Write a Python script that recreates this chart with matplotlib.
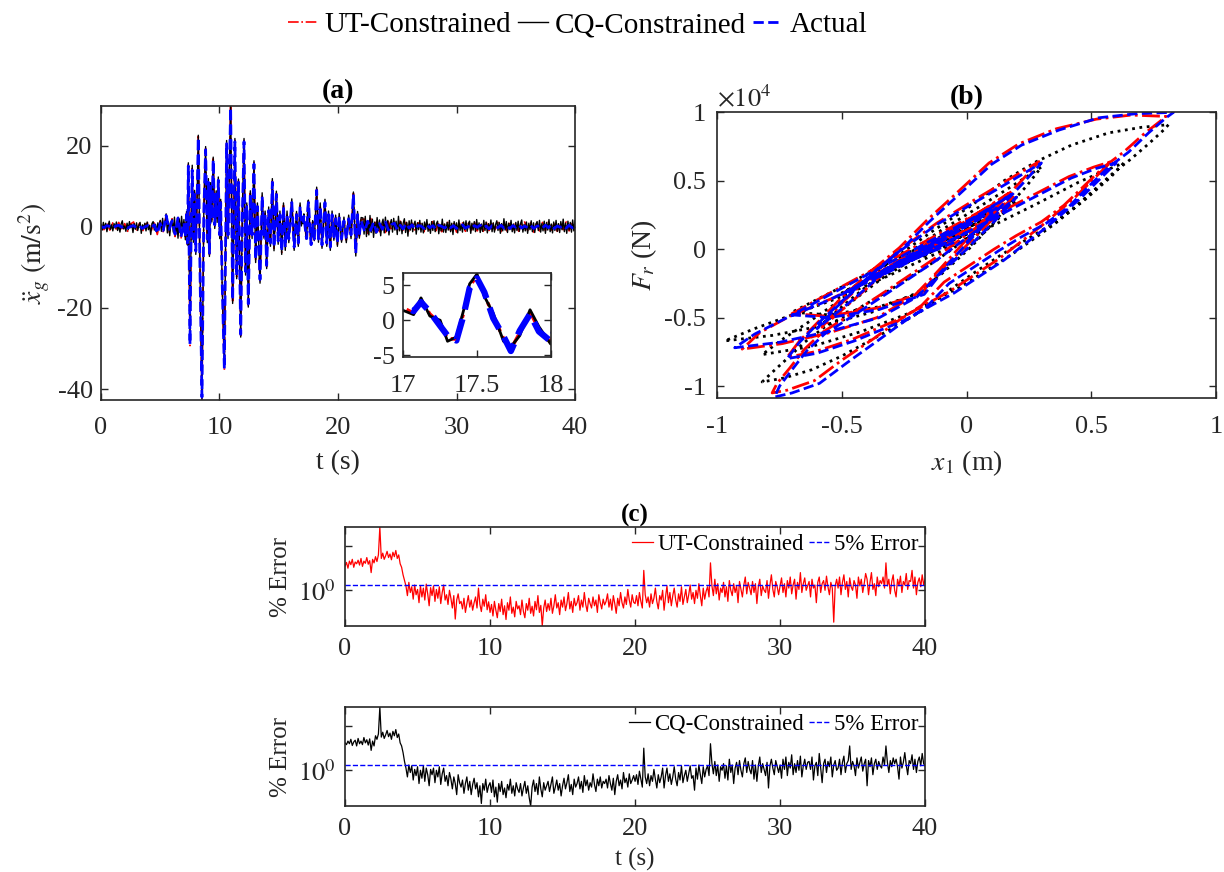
import numpy as np
import matplotlib
matplotlib.use('Agg')
import matplotlib.pyplot as plt
from matplotlib.lines import Line2D
from matplotlib.ticker import FixedLocator, NullLocator, FormatStrFormatter

plt.rcParams['font.family'] = 'serif'
plt.rcParams['font.serif'] = ['Liberation Serif', 'DejaVu Serif']
plt.rcParams['mathtext.fontset'] = 'stix'
plt.rcParams['axes.unicode_minus'] = False

GRIS = '#262626'

# ---------------- (a) aceleracion del suelo ----------------
# tramo tranquilo inicial, CQ cada 0.1 s (0 .. 6.9 s)
cq_q1 = [0.6, -0.8, 1.1, -0.4, 0.9, -1.2, 0.3, 1.4, -0.6, 0.5,
         -1.0, 0.8, -0.3, 1.2, -0.9, 0.4, -1.3, 0.7, 1.5, -0.5,
         0.2, -1.1, 0.9, -0.7, 1.3, -0.2, 0.6, -1.4, 0.8, -0.6,
         1.0, -0.9, 0.4, 1.1, -1.6, 0.5, -0.3, 0.9, -1.0, 1.2,
         -0.7, 0.3, -1.9, 0.8, 1.3, -0.8, 0.6, -1.2, 1.0, -0.4,
         1.6, -1.1, 2.1, -0.9, 0.7, 3.2, -1.5, 1.2, -2.2, 0.9,
         1.8, -1.3, 2.4, -2.0, 1.1, -2.8, 2.0, -1.6, 2.6, -1.0]
# actual y UT cada 0.25 s (0 .. 6.75 s)
act_q1 = [0.1, -0.2, 0.3, 0.1, -0.3, 0.2, 0.4, -0.1, 0.2, -0.3,
          0.1, 0.3, -0.2, 0.2, -0.4, 0.1, 0.3, -0.2, 0.5, -1.6,
          0.8, -0.9, 2.8, -0.6, 1.5, -1.8, 2.2, -2.5]
ut_q1 = [0.5, -0.7, 0.9, -0.8, 1.0, -0.6, 1.1, -0.9, 0.8, -1.1,
         0.7, 1.2, -1.0, 0.9, -1.2, 0.6, 1.1, -0.9, 1.3, -1.9,
         1.4, -1.2, 3.0, -1.3, 2.0, -2.4, 2.6, -2.9]

# evento principal (extremos)
t_main = [7.0, 7.12, 7.22, 7.3, 7.37, 7.51, 7.62, 7.7, 7.8, 7.9,
          8.0, 8.1, 8.21, 8.34, 8.52, 8.68, 8.83, 8.97, 9.06, 9.15,
          9.25, 9.35, 9.47, 9.6, 9.72, 9.8, 9.9, 10.02, 10.1, 10.22,
          10.41, 10.6, 10.72, 10.8, 10.94, 11.11, 11.3, 11.45, 11.6, 11.79,
          11.93, 12.07, 12.2, 12.3, 12.43, 12.6, 12.75, 12.91, 13.05, 13.2,
          13.42, 13.6, 13.75, 13.85, 13.98, 14.15, 14.3, 14.46, 14.6, 14.8,
          14.95, 15.1, 15.25, 15.4, 15.55, 15.7, 15.85, 16.1, 16.3, 16.5,
          16.65, 16.8, 16.9, 17.0, 17.07, 17.12, 17.18, 17.25, 17.3, 17.36,
          17.41, 17.45, 17.5, 17.55, 17.61, 17.68, 17.73, 17.79, 17.86, 17.92,
          18.0, 18.2, 18.35, 18.5, 18.65, 18.9, 19.05, 19.2, 19.35, 19.5,
          19.65, 19.8, 19.95, 20.1, 20.3, 20.5, 20.7, 20.9, 21.1, 21.3,
          21.5, 21.65, 21.8, 21.95]
act_main = [1.0, -2.5, 3.0, -4.0, 15.0, -29.0, 2.0, 14.0, -3.0, 8.0,
            -6.0, 5.0, 22.0, -8.0, -42.0, 4.0, 19.0, -3.0, 11.0, -6.5,
            10.0, 2.0, 16.5, 0.5, 8.0, 2.0, 11.5, -2.0, 6.0, -13.0,
            -35.0, 20.5, -2.0, 8.0, 29.4, -18.0, 21.0, -12.0, 11.0, -26.5,
            3.0, 21.0, -11.0, 5.0, -19.0, 8.0, -2.0, 15.5, -8.0, 5.0,
            -13.0, 7.5, -2.0, 3.0, -9.5, 4.0, -4.0, 11.0, -5.0, 8.0,
            -3.5, 3.0, -6.0, 5.0, -5.0, 3.0, -3.0, 6.0, -5.0, 3.0,
            -4.0, 5.0, 1.0, 2.0, 1.3, 2.6, 1.2, -0.8, -2.2, -2.9,
            0.8, 4.6, 6.0, 4.0, 0.3, -2.3, -4.4, -1.5, 0.9, -1.6,
            -3.0, 9.0, -3.0, 5.0, -4.5, 6.0, -4.0, 3.0, -5.0, 3.0,
            -2.5, 2.0, -4.0, 2.5, -3.0, 1.5, -3.0, 2.0, -2.0, 8.0,
            -6.5, 3.0, -2.0, 1.5]
cq_main = [1.8, -3.2, 3.8, -4.5, 15.8, -28.2, 2.9, 15.2, -3.8, 9.0,
           -6.8, 5.9, 22.6, -7.2, -42.6, 4.9, 19.8, -3.9, 11.9, -7.3,
           10.9, 1.2, 17.2, -0.4, 8.9, 1.1, 12.3, -2.9, 6.8, -13.8,
           -34.2, 21.3, -2.9, 8.9, 29.8, -18.9, 21.8, -12.8, 11.8, -27.2,
           3.9, 21.8, -11.9, 5.9, -19.8, 8.9, -2.9, 16.3, -8.8, 5.9,
           -13.9, 8.4, -2.8, 3.9, -10.3, 4.9, -4.8, 11.9, -5.9, 8.8,
           -4.3, 3.9, -6.8, 5.9, -5.8, 3.9, -3.9, 6.9, -5.8, 3.8,
           -4.8, 5.9, 0.2, 1.4, 0.8, 3.2, 0.6, 0.0, -3.0, -2.4,
           1.5, 5.2, 6.6, 3.4, 1.0, -3.0, -3.8, -2.2, 1.5, -0.9,
           -3.4, 9.8, -3.8, 5.9, -5.3, 6.8, -4.8, 3.9, -5.8, 3.9,
           -3.3, 2.9, -4.8, 3.3, -3.8, 2.4, -3.9, 2.9, -2.9, 8.6,
           -7.2, 3.8, -2.8, 2.3]
ut_main = [1.3, -2.8, 3.3, -4.3, 15.3, -29.3, 2.3, 14.4, -3.3, 8.4,
           -6.3, 5.3, 22.3, -8.3, -42.2, 4.3, 19.3, -3.3, 11.3, -6.8,
           10.3, 1.7, 16.8, 0.2, 8.3, 1.7, 11.8, -2.3, 6.3, -13.3,
           -35.3, 20.8, -2.3, 8.3, 29.6, -18.3, 21.3, -12.3, 11.3, -26.8,
           3.3, 21.3, -11.3, 5.3, -19.3, 8.3, -2.3, 15.8, -8.3, 5.3,
           -13.3, 7.8, -2.3, 3.3, -9.8, 4.3, -4.3, 11.3, -5.3, 8.3,
           -3.8, 3.3, -6.3, 5.3, -5.3, 3.3, -3.3, 6.3, -5.3, 3.3,
           -4.3, 5.3, 0.7, 1.8, 1.0, 2.9, 0.9, -0.5, -2.6, -2.7,
           1.1, 4.9, 6.3, 3.7, 0.6, -2.6, -4.1, -1.8, 1.2, -1.3,
           -3.2, 9.3, -3.3, 5.3, -4.8, 6.3, -4.3, 3.3, -5.3, 3.3,
           -2.8, 2.3, -4.3, 2.8, -3.3, 1.8, -3.3, 2.3, -2.3, 8.3,
           -6.8, 3.3, -2.3, 1.8]

# tramo tranquilo final, CQ cada 0.1 s (22.1 .. 40 s)
cq_q2 = [2.2, -1.8, 2.6, -2.4, 1.5, -2.0, 2.8, -1.4, 1.9, -2.6,
         1.2, -1.6, 2.3, -0.9, 1.7, -2.2, 0.8, 1.9, -1.5, 2.4,
         -1.1, 1.6, -2.0, 0.7, 1.8, -1.3, 2.1, -0.8, 1.4, -1.9,
         2.6, -1.0, 1.3, -1.7, 0.9, 2.0, -1.4, 1.1, -2.3, 1.5,
         -0.8, 1.7, -1.2, 0.6, 1.4, -1.8, 1.0, -0.7, 1.6, -1.3,
         0.9, -1.5, 1.2, -0.6, 1.8, -1.1, 0.7, -1.6, 1.3, -0.9,
         1.5, -1.2, 0.8, 1.4, -1.7, 0.6, -1.0, 1.9, -1.3, 0.7,
         -1.4, 1.1, -0.8, 1.6, -1.2, 0.9, -1.9, 1.3, -0.6, 1.0,
         -1.5, 1.7, -0.9, 0.6, -1.3, 1.2, -0.7, 1.5, -1.1, 0.8,
         1.4, -1.6, 0.9, -0.8, 1.3, -1.2, 1.8, -0.7, 1.0, -1.4,
         0.7, -1.1, 1.6, -0.9, 1.2, -1.5, 0.8, -0.6, 1.7, -1.2,
         1.0, -1.3, 0.6, 1.5, -0.9, 1.1, -1.6, 0.8, -1.0, 2.0,
         -0.8, 1.3, -1.4, 0.9, -0.7, 1.6, -1.2, 0.7, -1.5, 1.1,
         -0.9, 1.4, -1.1, 0.8, 1.7, -1.3, 0.6, -1.0, 1.2, -1.6,
         0.9, -0.7, 1.5, -1.2, 1.0, -1.4, 0.7, 1.3, -0.9, 1.6,
         -1.3, 0.8, -1.0, 1.4, -1.6, 1.1, -0.8, 1.8, -1.2, 0.7,
         -1.5, 1.2, -0.9, 1.6, -1.1, 0.8, -1.4, 1.3, -0.7, 1.9,
         -1.2, 0.9, -1.6, 1.4, -0.8, 1.1, -1.3, 1.7, -1.0, 1.5]
# actual y UT cada 0.25 s (22.25 .. 40 s)
act_q2 = [-1.2, 1.4, -0.9, 1.1, -1.3, 0.8, -0.6, 1.2, -0.8, 0.5,
          0.9, -0.7, 0.4, -0.5, 0.8, -0.3, 0.5, -0.6, 0.3, 0.2,
          -0.4, 0.5, -0.2, 0.3, -0.5, 0.4, 0.1, -0.3, 0.4, -0.2,
          0.3, -0.4, 0.2, 0.5, -0.3, 0.1, -0.4, 0.3, -0.1, 0.4,
          -0.3, 0.2, -0.5, 0.3, 0.1, -0.2, 0.4, -0.3, 0.2, -0.4,
          0.3, -0.1, 0.5, -0.3, 0.2, -0.2, 0.4, -0.4, 0.1, 0.3,
          -0.3, 0.4, -0.2, 0.5, -0.4, 0.2, -0.1, 0.3, -0.3, 0.4,
          -0.2, 0.1]
ut_q2 = [1.9, -1.6, 2.1, -1.5, 1.7, -1.2, 1.0, -1.4, 1.3, -0.9,
         1.2, -1.0, 1.4, -0.8, 1.1, -1.3, 0.9, -1.1, 1.0, 0.7,
         -1.2, 1.1, -0.8, 1.3, -1.0, 0.9, -1.2, 0.8, 1.1, -0.9,
         1.0, -1.3, 0.7, 1.2, -1.1, 0.9, -0.8, 1.3, -1.0, 0.8,
         -1.1, 1.2, -0.9, 1.0, -0.7, 1.1, -1.2, 0.9, -1.0, 1.3,
         -0.8, 1.0, -1.1, 0.7, 1.2, -0.9, 1.0, -1.3, 0.8, -1.0,
         1.1, -0.9, 1.2, -0.8, 1.0, -1.1, 0.9, -0.7, 1.2, -1.0,
         0.8, -0.9]

# ---------------- (b) lazos de histeresis (F en 1e4 N) ----------------
act_b_x = [0.00, 0.12, -0.20, 0.18, -0.35, -0.45, -0.60,
           -0.52, -0.42, -0.28, -0.12, 0.05, 0.18, 0.30,
           0.22, 0.10, -0.02, -0.12, -0.20, -0.35, -0.55, -0.75, -0.93,
           -0.85, -0.72, -0.55, -0.35, -0.15, 0.05, 0.25, 0.42, 0.52, 0.60,
           0.55, 0.45, 0.32, 0.15, -0.05, -0.25, -0.45, -0.60, -0.72,
           -0.67, -0.60, -0.50, -0.38, -0.26, -0.15, -0.03, 0.10, 0.22, 0.37, 0.53, 0.68, 0.83,
           0.80, 0.73, 0.65, 0.57, 0.49, 0.41, 0.32, 0.22, 0.13, 0.03, -0.07, -0.16, -0.26, -0.35, -0.48, -0.59, -0.70, -0.77,
           -0.75, -0.70, -0.64, -0.57, -0.45, -0.30, -0.12, 0.05, 0.20,
           0.12, 0.00, -0.10, -0.17, -0.35, -0.55, -0.70,
           0.10, -0.50, 0.05, -0.40, 0.00, -0.30, -0.05]
act_b_F = [0.05, 0.30, -0.05, 0.40, -0.20, -0.36, -0.58,
           -0.42, -0.25, -0.03, 0.18, 0.36, 0.50, 0.63,
           0.47, 0.24, 0.00, -0.20, -0.35, -0.50, -0.60, -0.68, -0.72,
           -0.62, -0.50, -0.37, -0.20, -0.02, 0.17, 0.36, 0.52, 0.59, 0.63,
           0.54, 0.36, 0.16, -0.08, -0.32, -0.52, -0.67, -0.76, -0.80,
           -0.68, -0.55, -0.38, -0.18, 0.00, 0.20, 0.40, 0.62, 0.76, 0.87, 0.96, 0.99, 1.00,
           0.96, 0.85, 0.71, 0.60, 0.46, 0.31, 0.19, 0.09, -0.01, -0.13, -0.25, -0.42, -0.54, -0.66, -0.83, -0.98, -1.05, -1.08,
           -1.00, -0.88, -0.74, -0.62, -0.48, -0.30, -0.08, 0.15, 0.38,
           0.22, 0.00, -0.17, -0.33, -0.44, -0.50, -0.48,
           0.30, -0.33, 0.22, -0.22, 0.12, -0.14, 0.05]
ut_b_x = [0.00, 0.11, -0.19, 0.17, -0.34, -0.44, -0.58,
          -0.51, -0.41, -0.28, -0.12, 0.04, 0.17, 0.29,
          0.21, 0.09, -0.03, -0.13, -0.21, -0.36, -0.55, -0.74, -0.90,
          -0.83, -0.71, -0.54, -0.35, -0.15, 0.04, 0.24, 0.41, 0.51, 0.58,
          0.53, 0.43, 0.30, 0.13, -0.07, -0.27, -0.46, -0.61, -0.72,
          -0.67, -0.60, -0.51, -0.39, -0.27, -0.16, -0.04, 0.09, 0.21, 0.36, 0.52, 0.66, 0.80,
          0.78, 0.71, 0.63, 0.55, 0.47, 0.39, 0.30, 0.20, 0.11, 0.01, -0.09, -0.18, -0.28, -0.37, -0.50, -0.61, -0.72, -0.78,
          -0.76, -0.71, -0.65, -0.58, -0.46, -0.31, -0.13, 0.04, 0.19,
          0.11, -0.01, -0.11, -0.18, -0.36, -0.56, -0.70,
          0.09, -0.49, 0.04, -0.39, -0.01, -0.30, -0.05]
ut_b_F = [0.06, 0.31, -0.04, 0.41, -0.19, -0.35, -0.57,
          -0.41, -0.24, -0.02, 0.19, 0.37, 0.51, 0.64,
          0.48, 0.25, 0.01, -0.19, -0.34, -0.50, -0.61, -0.69, -0.73,
          -0.61, -0.49, -0.36, -0.19, -0.01, 0.18, 0.37, 0.53, 0.60, 0.64,
          0.55, 0.37, 0.17, -0.07, -0.31, -0.51, -0.66, -0.75, -0.79,
          -0.67, -0.54, -0.37, -0.17, 0.01, 0.21, 0.41, 0.63, 0.77, 0.88, 0.95, 0.98, 0.97,
          0.94, 0.84, 0.71, 0.60, 0.46, 0.32, 0.20, 0.10, 0.00, -0.12, -0.24, -0.41, -0.53, -0.65, -0.81, -0.96, -1.03, -1.05,
          -0.98, -0.87, -0.73, -0.61, -0.47, -0.29, -0.07, 0.16, 0.39,
          0.23, 0.01, -0.16, -0.32, -0.43, -0.49, -0.47,
          0.31, -0.32, 0.23, -0.21, 0.13, -0.13, 0.06]
cq_b_x = [0.02, 0.13, -0.18, 0.20, -0.33, -0.43, -0.58,
          -0.50, -0.40, -0.26, -0.10, 0.06, 0.19, 0.30,
          0.24, 0.13, 0.02, -0.10, -0.20, -0.38, -0.58, -0.78, -0.97,
          -0.85, -0.70, -0.52, -0.32, -0.12, 0.08, 0.28, 0.45, 0.55, 0.63,
          0.58, 0.48, 0.35, 0.18, -0.02, -0.22, -0.42, -0.62, -0.82,
          -0.74, -0.64, -0.52, -0.40, -0.27, -0.13, 0.02, 0.15, 0.28, 0.42, 0.57, 0.70, 0.81,
          0.79, 0.73, 0.66, 0.59, 0.51, 0.43, 0.34, 0.24, 0.14, 0.04, -0.07, -0.17, -0.28, -0.38, -0.50, -0.62, -0.73, -0.82,
          -0.78, -0.72, -0.65, -0.57, -0.45, -0.30, -0.12, 0.05, 0.20,
          0.12, 0.00, -0.10, -0.17, -0.35, -0.55, -0.70,
          0.10, -0.50, 0.05, -0.40, 0.00, -0.30, -0.05]
cq_b_F = [0.06, 0.28, -0.06, 0.38, -0.20, -0.34, -0.55,
          -0.42, -0.27, -0.06, 0.14, 0.32, 0.47, 0.60,
          0.46, 0.24, 0.02, -0.18, -0.32, -0.46, -0.56, -0.63, -0.67,
          -0.58, -0.48, -0.36, -0.20, -0.03, 0.15, 0.33, 0.49, 0.57, 0.63,
          0.53, 0.37, 0.18, -0.04, -0.27, -0.46, -0.60, -0.71, -0.77,
          -0.66, -0.54, -0.39, -0.22, -0.04, 0.14, 0.32, 0.50, 0.64, 0.76, 0.85, 0.89, 0.91,
          0.87, 0.77, 0.66, 0.56, 0.43, 0.30, 0.18, 0.07, -0.04, -0.16, -0.30, -0.44, -0.56, -0.66, -0.78, -0.88, -0.94, -0.97,
          -0.90, -0.80, -0.68, -0.57, -0.45, -0.29, -0.08, 0.14, 0.36,
          0.21, 0.00, -0.16, -0.31, -0.42, -0.48, -0.46,
          0.28, -0.32, 0.20, -0.22, 0.11, -0.14, 0.05]

# ---------------- (c) error porcentual, log10, cada 0.1 s ----------------
ut_err_log = [0.55, 0.63, 0.50, 0.66, 0.58, 0.70, 0.52, 0.64, 0.60, 0.68,
              0.57, 0.72, 0.54, 0.66, 0.61, 0.74, 0.59, 0.67, 0.40, 0.70,
              0.62, 0.76, 0.65, 0.80, 1.43, 0.72, 0.84, 0.70, 0.78, 0.88,
              0.74, 0.82, 0.69, 0.86, 0.76, 0.90, 0.72, 0.80, 0.60, 0.52,
              0.35, 0.22, 0.10, -0.12, 0.18, -0.05, 0.08, -0.20, 0.12, -0.10,
              0.02, -0.28, 0.10, -0.15, 0.05, -0.22, 0.14, -0.08, -0.35, 0.06,
              -0.12, 0.10, -0.25, 0.02, -0.18, 0.08, -0.30, -0.05, 0.12, -0.22,
              -0.10, -0.32, 0.00, -0.18, -0.40, -0.12, -0.65, -0.22, -0.08, -0.30,
              -0.25, -0.42, -0.18, -0.50, -0.30, -0.12, -0.38, -0.22, -0.45, -0.28,
              -0.15, -0.40, 0.05, -0.32, -0.48, -0.20, -0.36, -0.10, -0.44, -0.26,
              -0.50, -0.32, -0.58, -0.25, -0.45, -0.62, -0.30, -0.48, -0.20, -0.55,
              -0.35, -0.66, -0.28, -0.45, -0.15, -0.52, -0.38, -0.60, -0.25, -0.42,
              -0.35, -0.55, -0.22, -0.48, -0.62, -0.30, -0.45, -0.18, -0.52, -0.36,
              -0.58, -0.25, -0.44, -0.12, -0.50, -0.34, -0.80, -0.40, -0.22, -0.48,
              -0.30, -0.45, -0.18, -0.52, -0.35, -0.10, -0.40, -0.28, -0.55, -0.22,
              -0.38, -0.15, -0.46, -0.30, -0.05, -0.42, -0.25, -0.50, -0.18, -0.35,
              -0.28, -0.12, -0.45, -0.22, -0.38, -0.05, -0.32, -0.48, -0.18, -0.30,
              -0.40, -0.15, -0.35, -0.22, -0.50, -0.10, -0.28, -0.42, -0.20, -0.33,
              -0.25, -0.08, -0.38, -0.20, -0.45, -0.12, -0.30, -0.52, -0.18, -0.35,
              -0.05, -0.28, -0.40, -0.15, -0.32, 0.02, -0.22, -0.38, -0.10, -0.27,
              -0.30, -0.12, -0.35, -0.05, -0.25, -0.40, 0.45, -0.10, -0.28, -0.15,
              -0.38, -0.08, -0.30, -0.18, 0.05, -0.25, -0.42, -0.12, -0.22, 0.00,
              -0.45, -0.15, 0.10, -0.28, -0.05, -0.35, -0.12, 0.05, -0.22, -0.38,
              -0.08, -0.25, 0.08, -0.32, -0.15, 0.02, -0.28, -0.10, 0.12, -0.20,
              -0.05, -0.30, 0.00, -0.18, 0.15, -0.12, -0.35, 0.05, -0.20, -0.02,
              0.08, -0.15, 0.62, 0.10, -0.12, 0.25, -0.08, 0.15, -0.22, 0.05,
              -0.05, 0.18, -0.15, 0.08, -0.25, 0.22, 0.00, -0.12, 0.15, -0.05,
              0.10, -0.28, 0.20, 0.02, -0.15, 0.12, 0.30, -0.08, 0.18, 0.05,
              -0.10, 0.20, -0.05, 0.15, -0.30, 0.08, 0.25, -0.12, 0.10, 0.00,
              -0.05, 0.22, -0.18, 0.12, 0.35, 0.02, -0.15, 0.20, 0.08, -0.10,
              0.10, 0.28, -0.05, 0.15, -0.15, 0.22, 0.05, 0.30, -0.08, 0.12,
              0.25, -0.20, 0.18, 0.02, 0.40, -0.05, 0.15, 0.28, 0.00, 0.10,
              0.20, -0.15, 0.25, 0.05, 0.12, -0.28, 0.18, 0.30, -0.05, 0.15,
              0.22, 0.00, 0.32, 0.08, -0.10, 0.18, 0.05, -0.72, 0.10, 0.25,
              0.05, 0.30, -0.10, 0.18, 0.35, 0.02, 0.20, -0.15, 0.28, 0.08,
              0.00, 0.22, 0.12, -0.18, 0.30, 0.10, 0.25, -0.05, 0.15, 0.38,
              0.25, -0.10, 0.18, 0.40, 0.02, 0.15, -0.12, 0.30, 0.08, 0.22,
              0.15, 0.30, 0.05, 0.62, 0.10, 0.25, -0.08, 0.20, 0.35, 0.00,
              -0.15, 0.25, 0.10, 0.32, -0.05, 0.20, 0.12, 0.38, 0.02, 0.22,
              0.20, 0.45, 0.05, 0.30, -0.10, 0.18, 0.28, 0.08, 0.35, 0.12,
              0.25]
cq_err_log = [0.62, 0.58, 0.66, 0.60, 0.70, 0.56, 0.64, 0.68, 0.55, 0.72,
              0.60, 0.66, 0.58, 0.74, 0.62, 0.69, 0.57, 0.71, 0.45, 0.66,
              0.55, 0.78, 0.70, 0.82, 1.43, 0.75, 0.86, 0.72, 0.80, 0.90,
              0.76, 0.84, 0.70, 0.88, 0.78, 0.92, 0.74, 0.82, 0.62, 0.55,
              0.40, 0.20, 0.05, -0.15, 0.12, -0.05, 0.10, -0.22, 0.02, -0.12,
              0.08, -0.30, 0.00, -0.18, 0.10, -0.25, 0.05, -0.10, -0.35, 0.02,
              -0.10, 0.05, -0.28, 0.00, -0.15, 0.08, -0.32, -0.08, 0.05, -0.25,
              -0.12, -0.35, -0.05, -0.20, -0.42, -0.15, -0.30, -0.55, -0.10, -0.28,
              -0.38, -0.22, -0.52, -0.30, -0.15, -0.45, -0.25, -0.55, -0.32, -0.18,
              -0.42, -0.28, -0.60, -0.35, -0.75, -0.30, -0.45, -0.20, -0.50, -0.35,
              -0.28, -0.50, -0.22, -0.60, -0.38, -0.72, -0.30, -0.48, -0.25, -0.55,
              -0.40, -0.62, -0.32, -0.45, -0.20, -0.52, -0.35, -0.58, -0.28, -0.42,
              -0.50, -0.30, -0.58, -0.40, -0.25, -0.52, -0.35, -0.62, -0.81, -0.38,
              -0.22, -0.48, -0.30, -0.55, -0.15, -0.42, -0.60, -0.28, -0.45, -0.35,
              -0.25, -0.48, -0.32, -0.15, -0.52, -0.38, -0.22, -0.45, -0.30, -0.58,
              -0.35, -0.18, -0.42, -0.28, -0.10, -0.48, -0.32, -0.55, -0.20, -0.38,
              -0.30, -0.15, -0.42, -0.25, -0.50, -0.12, -0.35, -0.22, -0.45, -0.28,
              -0.38, -0.08, -0.32, -0.48, -0.20, -0.35, -0.15, -0.40, -0.25, -0.30,
              -0.20, -0.40, -0.12, -0.30, -0.45, -0.18, -0.55, -0.25, -0.10, -0.35,
              -0.22, -0.42, -0.05, -0.28, -0.18, -0.38, -0.08, -0.30, -0.22, -0.12,
              -0.25, -0.10, -0.32, -0.02, -0.20, -0.38, 0.50, -0.15, -0.30, -0.08,
              -0.35, -0.12, -0.25, 0.02, -0.20, -0.40, -0.10, -0.28, -0.15, 0.05,
              -0.40, -0.12, 0.05, -0.25, -0.08, -0.32, -0.15, 0.08, -0.20, -0.35,
              -0.05, -0.22, 0.10, -0.28, -0.12, 0.00, -0.25, -0.08, 0.10, -0.18,
              -0.12, -0.45, 0.05, -0.20, 0.12, -0.10, -0.30, 0.08, -0.15, 0.02,
              0.10, -0.12, 0.60, 0.15, -0.08, 0.20, -0.12, 0.12, -0.25, 0.08,
              0.00, 0.15, -0.18, 0.10, -0.22, 0.25, -0.05, 0.12, -0.30, 0.05,
              0.18, -0.10, 0.22, 0.00, -0.15, 0.15, 0.28, -0.05, 0.20, 0.02,
              -0.08, 0.22, -0.20, 0.12, -0.25, 0.10, 0.30, -0.05, 0.15, 0.02,
              -0.12, 0.18, -0.40, 0.10, 0.25, 0.05, -0.10, 0.22, 0.08, -0.05,
              0.12, -0.18, 0.25, 0.02, 0.30, -0.12, 0.18, 0.05, 0.35, -0.10,
              0.15, -0.05, 0.22, 0.00, 0.32, -0.15, 0.10, 0.25, 0.02, 0.18,
              0.20, 0.02, 0.30, -0.22, 0.10, 0.18, -0.12, 0.38, 0.05, -0.28,
              0.15, 0.25, -0.05, 0.20, 0.08, 0.30, -0.15, 0.12, 0.22, 0.00,
              0.05, 0.25, -0.10, 0.18, 0.32, -0.05, 0.15, 0.22, 0.55, 0.02,
              0.20, 0.10, -0.12, 0.28, 0.05, 0.18, 0.30, -0.02, 0.15, 0.25,
              -0.35, 0.22, 0.08, 0.28, -0.10, 0.15, 0.25, 0.02, 0.20, 0.10,
              0.05, 0.30, 0.12, 0.55, 0.18, -0.05, 0.22, 0.08, 0.28, 0.15,
              0.25, 0.08, -0.20, 0.30, 0.05, 0.18, 0.40, 0.12, -0.10, 0.22,
              0.15, 0.35, 0.02, 0.25, -0.05, 0.20, 0.30, 0.10, 0.38, 0.15,
              0.10]
error_5 = 1.35


def estilo(ax, xpad=12.5, ypad=6, size=19):
    ax.tick_params(direction='in', top=True, right=True, length=5, width=1,
                   color=GRIS, labelcolor=GRIS, labelsize=size)
    ax.tick_params(axis='x', pad=xpad)
    ax.tick_params(axis='y', pad=ypad)
    for s in ax.spines.values():
        s.set_color(GRIS)
        s.set_linewidth(1.2)


def serie(t_a, v_a, t_b, v_b, t_c, v_c):
    return np.concatenate([t_a, t_b, t_c]), np.concatenate([v_a, v_b, v_c])


def main():
    # rejillas de muestreo
    t_q1 = np.arange(0, 70) / 10
    t_q1s = np.arange(0, 28) / 4
    t_q2 = np.arange(221, 401) / 10
    t_q2s = np.arange(89, 161) / 4
    t_cq, v_cq = serie(t_q1, cq_q1, t_main, cq_main, t_q2, cq_q2)
    t_ut, v_ut = serie(t_q1s, ut_q1, t_main, ut_main, t_q2s, ut_q2)
    t_ac, v_ac = serie(t_q1s, act_q1, t_main, act_main, t_q2s, act_q2)

    fig = plt.figure(figsize=(12.24, 8.72), dpi=100)

    # (a)
    ax = fig.add_axes([0.0825, 0.5418, 0.3873, 0.3366])
    ax.plot(t_ut, v_ut, color='r', ls='-.', lw=1.2)
    ax.plot(t_cq, v_cq, color='k', ls='-', lw=1.0)
    ax.plot(t_ac, v_ac, color='b', ls='--', lw=2.0)
    ax.set_xlim(0, 40)
    ax.set_ylim(min(v_cq.min(), v_ac.min()), max(v_cq.max(), v_ac.max()))
    ax.set_xticks([0, 10, 20, 30, 40])
    ax.set_yticks([-40, -20, 0, 20])
    ax.set_xlabel('t (s)', fontsize=20, color=GRIS, labelpad=8)
    ax.set_ylabel(r'$\ddot{x}_g\ (\mathrm{m/s^2})$', fontsize=20, color=GRIS)
    ax.set_title('(a)', fontweight='bold', fontsize=20, pad=6)
    estilo(ax)

    ins = fig.add_axes([0.3295, 0.5906, 0.1204, 0.0963])
    ins.plot(t_ut, v_ut, color='r', ls='-.', lw=2.5)
    ins.plot(t_cq, v_cq, color='k', ls='-', lw=2.0)
    ins.plot(t_ac, v_ac, color='b', ls='--', lw=4.5)
    ins.set_xlim(17, 18)
    ins.set_ylim(-5.25, 6.75)
    ins.set_xticks([17, 17.5, 18])
    ins.set_yticks([-5, 0, 5])
    ins.xaxis.set_major_formatter(FormatStrFormatter('%g'))
    estilo(ins, xpad=13)

    # (b)
    bx = fig.add_axes([0.586, 0.5439, 0.4074, 0.3273])
    bx.plot(cq_b_x, cq_b_F, color='k', ls=':', lw=2.0)
    bx.plot(ut_b_x, ut_b_F, color='r', ls='-.', lw=2.0)
    bx.plot(act_b_x, act_b_F, color='b', ls='--', lw=2.0)
    bx.set_xlim(-1, 1)
    bx.set_ylim(-1.085, 1.0)
    bx.set_xticks([-1, -0.5, 0, 0.5, 1])
    bx.set_yticks([-1, -0.5, 0, 0.5, 1])
    bx.xaxis.set_major_formatter(FormatStrFormatter('%g'))
    bx.yaxis.set_major_formatter(FormatStrFormatter('%g'))
    bx.set_xlabel(r'$x_{\mathit{1}}$ (m)', fontsize=20, color=GRIS, labelpad=7)
    bx.set_ylabel(r'$F_r$ (N)', fontsize=20, color=GRIS)
    bx.set_title('(b)', fontweight='bold', fontsize=20, pad=6)
    bx.text(0.0, 1.004, r'$\times10^4$', transform=bx.transAxes,
            ha='left', va='bottom', fontsize=19, color=GRIS)
    estilo(bx, xpad=13.5, ypad=8)

    # (c)
    t_err = np.arange(0, 401) / 10
    paneles = [(0.2821, ut_err_log, 'r', 'UT-Constrained'),
               (0.0757, cq_err_log, 'k', 'CQ-Constrained')]
    for i, (y0, datos, col, nombre) in enumerate(paneles):
        cx = fig.add_axes([0.2819, y0, 0.4739, 0.1135])
        cx.plot(t_err, 10 ** np.array(datos), color=col, lw=0.9, label=nombre)
        cx.axhline(error_5, color='b', ls='--', lw=1.0, label='5% Error')
        cx.set_yscale('log')
        cx.set_xlim(0, 40)
        cx.set_ylim(0.156, 26.9)
        cx.yaxis.set_major_locator(FixedLocator([1, 10]))
        cx.yaxis.set_minor_locator(NullLocator())
        cx.set_yticklabels([r'$10^0$', ''])
        cx.set_xticks([0, 10, 20, 30, 40])
        cx.set_ylabel('% Error', fontsize=18, color=GRIS)
        cx.legend(loc='upper right', ncol=2, frameon=False, fontsize=16.5,
                  handlelength=0.9, columnspacing=0.2, handletextpad=0.2,
                  borderaxespad=0.1, borderpad=0.2)
        estilo(cx, xpad=8.5, ypad=7)
        if i == 0:
            cx.set_title('(c)', fontweight='bold', fontsize=18, pad=4)
        else:
            cx.set_xlabel('t (s)', fontsize=18, color=GRIS, labelpad=6)

    handles = [Line2D([], [], color='r', ls='-.', lw=1.2),
               Line2D([], [], color='k', ls='-', lw=1.0),
               Line2D([], [], color='b', ls='--', lw=2.0)]
    fig.legend(handles, ['UT-Constrained', 'CQ-Constrained', 'Actual'],
               loc='center', bbox_to_anchor=(0.472, 0.971), ncol=3,
               frameon=False, fontsize=21, handlelength=1.0,
               columnspacing=0.25, handletextpad=0.25)

    fig.savefig('out.png', dpi=100, facecolor='white')
    plt.close(fig)


if __name__ == '__main__':
    main()
